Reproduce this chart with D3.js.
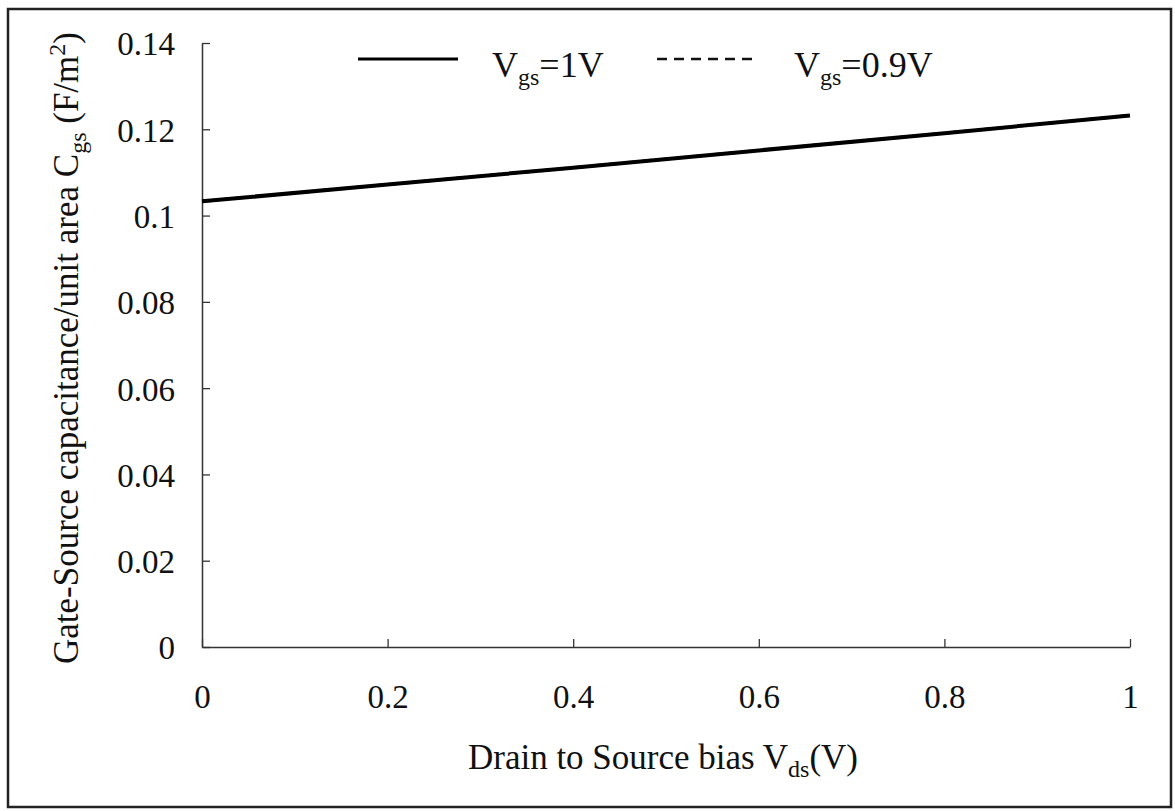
<!DOCTYPE html>
<html>
<head>
<meta charset="utf-8">
<script src="https://cdn.jsdelivr.net/npm/d3@7"></script>
<style>
body { margin:0; background:#fff; }
</style>
</head>
<body>
<svg width="1175" height="811"></svg>
<script>
// data
var vds = [0, 0.2, 0.4, 0.6, 0.8, 1];
var cgs1V = [0.1033, 0.1072, 0.1111, 0.1151, 0.1191, 0.1232];
var cgs09V = [0.1033, 0.1072, 0.1111, 0.1151, 0.1191, 0.1232];
var xTicks = [0, 0.2, 0.4, 0.6, 0.8, 1];
var yTicks = [0, 0.02, 0.04, 0.06, 0.08, 0.1, 0.12, 0.14];

var serif = "Liberation Serif, Times New Roman, serif";

var svg = d3.select("svg")
  .attr("font-family", serif);

// scanned frame
svg.append("rect")
  .attr("x", 8).attr("y", 9)
  .attr("width", 1163).attr("height", 798)
  .attr("fill", "none").attr("stroke", "#222").attr("stroke-width", 2.5);

var xScale = d3.scaleLinear().domain([0, 1]).range([202, 1130]);
var yScale = d3.scaleLinear().domain([0, 0.14]).range([647, 43]);

// axes
var xAxis = d3.axisBottom(xScale).tickValues(xTicks).tickSizeInner(-8).tickSizeOuter(0)
  .tickFormat(function(d){ return d3.format("")(d); });
var gx = svg.append("g").attr("transform", "translate(0," + yScale(0) + ")").call(xAxis)
  .attr("font-family", serif).attr("font-size", 33);
gx.select(".domain").attr("stroke", "#333").attr("stroke-width", 1.5);
gx.selectAll(".tick line").attr("stroke", "#333").attr("stroke-width", 1.3);
gx.selectAll(".tick text").attr("y", 0).attr("dy", 61).attr("fill", "#111");

var yAxis = d3.axisLeft(yScale).tickValues(yTicks).tickSizeInner(-8).tickSizeOuter(0)
  .tickFormat(function(d){ return d3.format("")(+d.toFixed(2)); });
var gy = svg.append("g").attr("transform", "translate(" + xScale(0) + ",0)").call(yAxis)
  .attr("font-family", serif).attr("font-size", 33);
gy.select(".domain").attr("stroke", "#333").attr("stroke-width", 1.5);
gy.selectAll(".tick line").attr("stroke", "#333").attr("stroke-width", 1.3);
gy.selectAll(".tick text").attr("x", -27).attr("dy", "0.36em").attr("fill", "#111");

// series
var line = d3.line()
  .x(function(d){ return xScale(d[0]); })
  .y(function(d){ return yScale(d[1]); });

svg.append("path")
  .datum(d3.zip(vds, cgs09V))
  .attr("d", line).attr("fill", "none")
  .attr("stroke", "#111").attr("stroke-width", 3).attr("stroke-dasharray", "10,7");

svg.append("path")
  .datum(d3.zip(vds, cgs1V))
  .attr("d", line).attr("fill", "none")
  .attr("stroke", "#000").attr("stroke-width", 4);

// legend
svg.append("line").attr("x1", 358).attr("x2", 458).attr("y1", 59).attr("y2", 59)
  .attr("stroke", "#000").attr("stroke-width", 3);
svg.append("line").attr("x1", 657).attr("x2", 753).attr("y1", 59).attr("y2", 59)
  .attr("stroke", "#111").attr("stroke-width", 2.5).attr("stroke-dasharray", "10,7");

var legendLabels = [{x: 492, tail: "=1V"}, {x: 794, tail: "=0.9V"}];
legendLabels.forEach(function(l){
  var t = svg.append("text").attr("x", l.x).attr("y", 77).attr("font-size", 36).attr("fill", "#111");
  t.append("tspan").text("V");
  t.append("tspan").attr("font-size", 24).attr("dy", 8).text("gs");
  t.append("tspan").attr("dy", -8).text(l.tail);
});

// x title
var xt = svg.append("text").attr("x", 663).attr("y", 769).attr("text-anchor", "middle")
  .attr("font-size", 35).attr("fill", "#111");
xt.append("tspan").text("Drain to Source bias V");
xt.append("tspan").attr("font-size", 24).attr("dy", 8).text("ds");
xt.append("tspan").attr("dy", -8).text("(V)");

// y title
var yt = svg.append("text")
  .attr("transform", "translate(78,348) rotate(-90)")
  .attr("text-anchor", "middle").attr("font-size", 35).attr("fill", "#111");
yt.append("tspan").text("Gate-Source capacitance/unit area C");
yt.append("tspan").attr("font-size", 24).attr("dy", 8).text("gs");
yt.append("tspan").attr("dy", -8).text(" (F/m");
yt.append("tspan").attr("font-size", 24).attr("dy", -13).text("2");
yt.append("tspan").attr("dy", 13).text(")");
</script>
</body>
</html>
